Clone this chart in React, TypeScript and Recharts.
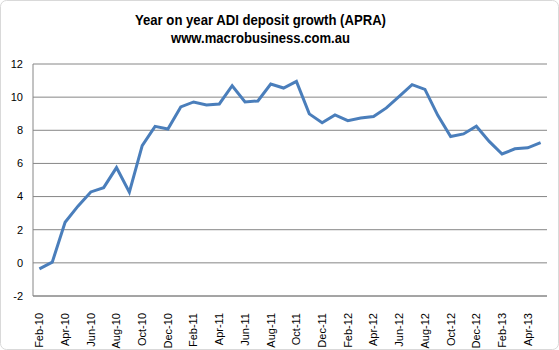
import React from 'react';
import { LineChart, Line, XAxis, YAxis, CartesianGrid } from 'recharts';

const months = [
  'Feb-10', 'Mar-10', 'Apr-10', 'May-10', 'Jun-10', 'Jul-10', 'Aug-10', 'Sep-10', 'Oct-10', 'Nov-10', 'Dec-10', 'Jan-11',
  'Feb-11', 'Mar-11', 'Apr-11', 'May-11', 'Jun-11', 'Jul-11', 'Aug-11', 'Sep-11', 'Oct-11', 'Nov-11', 'Dec-11', 'Jan-12',
  'Feb-12', 'Mar-12', 'Apr-12', 'May-12', 'Jun-12', 'Jul-12', 'Aug-12', 'Sep-12', 'Oct-12', 'Nov-12', 'Dec-12', 'Jan-13',
  'Feb-13', 'Mar-13', 'Apr-13', 'May-13',
];

const growth = [
  -0.36, 0.04, 2.45, 3.42, 4.28, 4.54, 5.75, 4.26, 7.07, 8.24, 8.08, 9.41,
  9.71, 9.53, 9.59, 10.69, 9.71, 9.77, 10.79, 10.55, 10.95, 8.99, 8.46, 8.93,
  8.58, 8.74, 8.83, 9.35, 10.05, 10.75, 10.47, 8.9, 7.62, 7.78, 8.24, 7.33,
  6.57, 6.88, 6.94, 7.26,
];

const yTicks = [-2, 0, 2, 4, 6, 8, 10, 12];

const titleLine1 = 'Year on year ADI deposit growth (APRA)';
const titleLine2 = 'www.macrobusiness.com.au';

const data = months.map((m, i) => ({ month: m, value: growth[i] }));

const FONT = '"Liberation Sans", Arial, sans-serif';

const XTick = (props: any) => {
  const { x, y, payload } = props;
  return (
    <text
      transform={`translate(${x},${y + 9}) rotate(-90)`}
      textAnchor="end"
      dy="0.35em"
      fontSize={11}
      fontFamily={FONT}
      fill="#000"
    >
      {payload.value}
    </text>
  );
};

export default function App() {
  return (
    <div style={{ position: 'absolute', left: 0, top: 0, width: 559, height: 350, background: '#fff' }}>
      <LineChart
        width={559}
        height={350}
        data={data}
        margin={{ top: 64, right: 12, bottom: 0, left: 0 }}
      >
        <CartesianGrid vertical={false} stroke="#868686" strokeWidth={1} />
        <XAxis
          dataKey="month"
          interval={1}
          tickLine={false}
          axisLine={{ stroke: '#868686' }}
          height={54}
          padding={{ left: 6.4, right: 6.4 }}
          tick={<XTick />}
        />
        <YAxis
          domain={[-2, 12]}
          ticks={yTicks}
          width={33}
          tickLine={false}
          tickMargin={4}
          axisLine={{ stroke: '#868686' }}
          tick={{ fontSize: 11, fill: '#000', fontFamily: FONT }}
        />
        <Line
          type="linear"
          dataKey="value"
          stroke="#4A7EBB"
          strokeWidth={3}
          dot={false}
          isAnimationActive={false}
        />
      </LineChart>
      <svg
        width={559}
        height={350}
        style={{ position: 'absolute', left: 0, top: 0, pointerEvents: 'none' }}
      >
        <text x={135} y={25} fontSize={14} fontWeight="bold" fontFamily={FONT} textLength={251} lengthAdjust="spacingAndGlyphs" fill="#000">
          {titleLine1}
        </text>
        <text x={171} y={43} fontSize={14} fontWeight="bold" fontFamily={FONT} textLength={179} lengthAdjust="spacingAndGlyphs" fill="#000">
          {titleLine2}
        </text>
        <rect x={0.5} y={0.5} width={558} height={349} rx={6} ry={6} fill="none" stroke="#d9d9d9" />
      </svg>
    </div>
  );
}
